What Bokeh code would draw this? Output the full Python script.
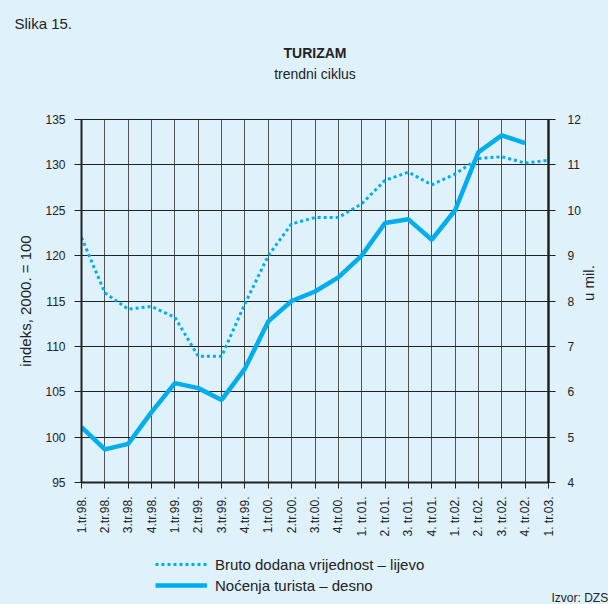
import math
from bokeh.plotting import figure
from bokeh.layouts import column
from bokeh.models import (Range1d, LinearAxis, FixedTicker, Title, Legend, LegendItem, Label)
from bokeh.embed import file_html
from bokeh.resources import INLINE

quarters = ["1.tr.98.", "2.tr.98.", "3.tr.98.", "4.tr.98.",
            "1.tr.99.", "2.tr.99.", "3.tr.99.", "4.tr.99.",
            "1.tr.00.", "2.tr.00.", "3.tr.00.", "4.tr.00.",
            "1. tr.01.", "2. tr.01.", "3. tr.01.", "4. tr.01.",
            "1. tr.02.", "2. tr.02.", "3. tr.02.", "4. tr.02.",
            "1. tr.03."]
bruto = [122.0, 115.9, 114.1, 114.4, 113.2, 108.9, 108.9, 114.7,
         120.0, 123.5, 124.2, 124.2, 125.7, 128.3, 129.2, 127.8,
         129.0, 130.7, 130.9, 130.2, 130.5]
nocenja = [5.22, 4.73, 4.85, 5.55, 6.19, 6.08, 5.82, 6.51,
           7.55, 8.0, 8.21, 8.52, 9.0, 9.72, 9.80, 9.35,
           10.0, 11.28, 11.65, 11.48]
left_ticks = [95, 100, 105, 110, 115, 120, 125, 130, 135]
right_ticks = [4, 5, 6, 7, 8, 9, 10, 11, 12]
series_names = ["Bruto dodana vrijednost – lijevo", "Noćenja turista – desno"]

BG = "#dff1fb"
LINE = "#00aeef"
TXT = "#222222"
FONT = "Liberation Sans"
DOT = dict(line_color=LINE, line_width=3, line_dash="3 3")
SOLID = dict(line_color=LINE, line_width=4.5)

p = figure(width=608, height=550, output_backend="svg", toolbar_location=None,
           x_range=Range1d(0, len(quarters) - 1), y_range=Range1d(95, 135),
           min_border_left=81, min_border_right=55, min_border_top=119,
           min_border_bottom=68, background_fill_color=BG, border_fill_color=BG,
           outline_line_color="#222222", outline_line_width=1)
p.extra_y_ranges = {"right": Range1d(4, 12)}

xs = list(range(len(quarters)))
p.line(xs, bruto, **DOT)
p.line(xs[:len(nocenja)], nocenja, y_range_name="right", **SOLID)

def style_axis(a, standoff):
    a.minor_tick_line_color = None
    a.major_tick_in = 0
    a.major_tick_out = 7
    a.axis_line_width = 2
    a.axis_line_color = "#222222"
    a.major_tick_line_color = "#222222"
    a.major_label_text_font = FONT
    a.major_label_text_font_size = "12px"
    a.major_label_text_color = TXT
    a.major_label_standoff = standoff
    a.axis_label_text_font = FONT
    a.axis_label_text_font_size = "15px"
    a.axis_label_text_font_style = "normal"
    a.axis_label_text_color = TXT

xa = p.xaxis[0]
style_axis(xa, 8)
xa.ticker = FixedTicker(ticks=xs)
xa.major_label_overrides = {i: q for i, q in enumerate(quarters)}
xa.major_label_orientation = math.pi / 2
xa.major_tick_out = 6

ya = p.yaxis[0]
style_axis(ya, 9)
ya.ticker = FixedTicker(ticks=left_ticks)
ya.axis_label = "indeks, 2000. = 100"
ya.axis_label_standoff = 8

ra = LinearAxis(y_range_name="right", ticker=FixedTicker(ticks=right_ticks))
style_axis(ra, 12)
ra.axis_line_width = 2.5
ra.axis_label = "u mil."
ra.axis_label_standoff = 5
if "axis_label_orientation" in ra.properties():
    ra.axis_label_orientation = math.pi / 2
p.add_layout(ra, "right")

p.xgrid.ticker = FixedTicker(ticks=xs)
p.xgrid.grid_line_color = "#555555"
p.xgrid.grid_line_width = 1
p.ygrid.ticker = FixedTicker(ticks=left_ticks)
p.ygrid.grid_line_color = "#222222"
p.ygrid.grid_line_width = 1

def title(text, size, style, align, standoff, offset=0):
    p.add_layout(Title(text=text, align=align, offset=offset, text_font=FONT,
                       text_font_size=size, text_font_style=style,
                       text_color=TXT, standoff=standoff), "above")

# stacked outward from the frame
title(" ", "13px", "normal", "center", 18)
title("trendni ciklus", "14px", "normal", "center", 5)
title("TURIZAM", "14px", "bold", "center", 1)
title("Slika 15.", "15px", "normal", "left", 21, offset=-67)

# bottom strip: legend and source note
p2 = figure(width=608, height=54, output_backend="svg", toolbar_location=None,
            x_axis_location=None, y_axis_location=None,
            x_range=Range1d(0, 1), y_range=Range1d(0, 1),
            min_border=0, min_border_left=0, min_border_right=0,
            min_border_top=0, min_border_bottom=0,
            background_fill_color=BG, border_fill_color=BG, outline_line_color=None)
p2.grid.visible = False
X0 = 0
if "frame_align" in p2.properties():
    p2.frame_align = False
    p.frame_align = False
else:
    X0 = 81
# one-point key renderers (off-range, so nothing is drawn in the strip itself)
k1 = p2.line(xs[:1], bruto[:1], **DOT)
k2 = p2.line(xs[:1], nocenja[:1], **SOLID)
legend = Legend(items=[LegendItem(label=series_names[0], renderers=[k1]),
                       LegendItem(label=series_names[1], renderers=[k2])],
                location=(155 - X0, 9), padding=0, margin=0, spacing=1,
                glyph_width=52, glyph_height=20, label_height=20,
                label_standoff=8, background_fill_alpha=0, border_line_color=None,
                label_text_font=FONT, label_text_font_size="15px",
                label_text_color=TXT, orientation="vertical")
p2.add_layout(legend, "center")
p2.add_layout(Label(x=551 - X0, y=6.5, x_units="screen", y_units="screen", text="Izvor: DZS",
                    text_font=FONT, text_font_size="12px", text_color=TXT,
                    text_baseline="middle", text_align="left"))

layout = column(p, p2, spacing=0, styles={"background-color": BG})
open("out.html", "w").write(file_html(layout, INLINE))
